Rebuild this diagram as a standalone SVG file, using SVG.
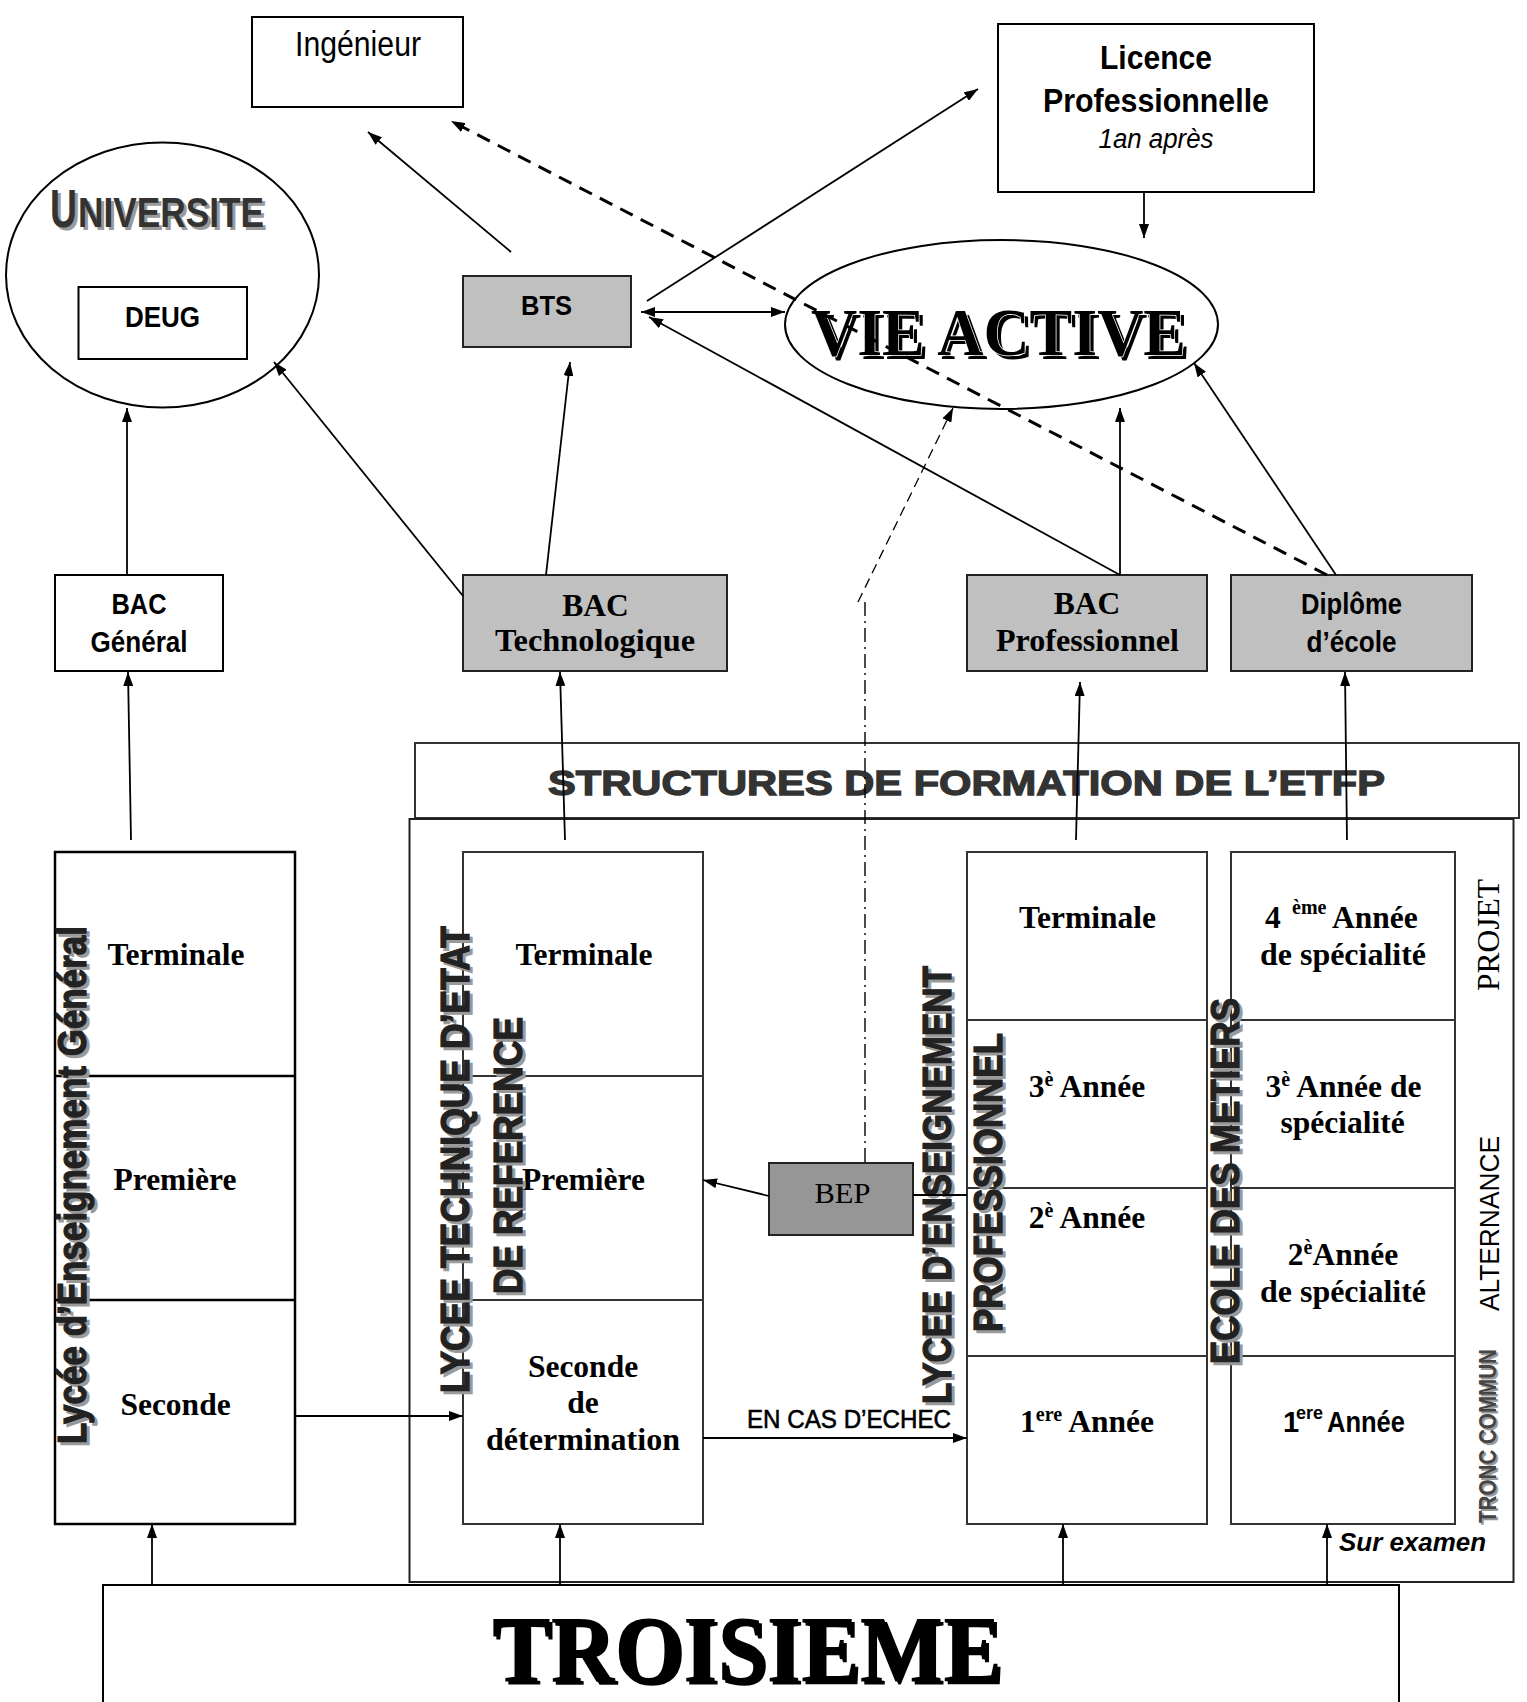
<svg xmlns="http://www.w3.org/2000/svg" width="1527" height="1702" viewBox="0 0 1527 1702">
<defs>
<marker id="ah" viewBox="0 0 14 10" refX="14" refY="5" markerWidth="14" markerHeight="10" markerUnits="userSpaceOnUse" orient="auto-start-reverse">
<path d="M0,0 L14,5 L0,10 Z" fill="#000"/>
</marker>
</defs>
<style>
.box{fill:#fff;stroke:#000;stroke-width:2}
.gray{fill:#c0c0c0;stroke:#222;stroke-width:2}
.dark{fill:#969696;stroke:#222;stroke-width:2}
.col{fill:#fff;stroke:#333;stroke-width:2}
.n{font-family:"Liberation Sans Narrow","Liberation Sans",Arial,sans-serif}
.b{font-weight:bold}
.i{font-style:italic}
.t{font-family:"Liberation Serif","Times New Roman",serif;font-weight:bold;font-size:31.5px;fill:#000}
.tr{font-family:"Liberation Serif","Times New Roman",serif;fill:#000}
.hv{font-family:"Liberation Sans",Arial,sans-serif;font-weight:bold;font-size:40px;fill:#222;stroke:#222;stroke-width:1.2}
.sh{fill:#9a9a9a;stroke:#9a9a9a}
.mid{text-anchor:middle}
.conn line{stroke:#000;stroke-width:1.8;fill:none}
.conn .ar{marker-end:url(#ah)}
</style>

<!-- top nodes -->
<g id="ingenieur">
<rect class="box" x="252" y="17" width="211" height="90"/>
<text class="n mid" x="358" y="56" font-size="35" textLength="126" lengthAdjust="spacingAndGlyphs">Ingénieur</text>
</g>
<g id="licence">
<rect class="box" x="998" y="24" width="316" height="168"/>
<text class="n b mid" x="1156" y="69" font-size="33" textLength="112" lengthAdjust="spacingAndGlyphs">Licence</text>
<text class="n b mid" x="1156" y="112" font-size="33" textLength="226" lengthAdjust="spacingAndGlyphs">Professionnelle</text>
<text class="n i mid" x="1156" y="148" font-size="27" textLength="115" lengthAdjust="spacingAndGlyphs">1an après</text>
</g>
<g id="universite">
<ellipse cx="162.5" cy="275" rx="156.5" ry="132.5" fill="#fff" stroke="#000" stroke-width="2"/>
<text class="n b" x="53" y="230" font-size="53" fill="#9a9a9a" textLength="27" lengthAdjust="spacingAndGlyphs">U</text>
<text class="n b" x="81" y="230" font-size="42" fill="#9a9a9a" textLength="186" lengthAdjust="spacingAndGlyphs">NIVERSITE</text>
<text class="n b" x="50" y="227" font-size="53" fill="#333" textLength="27" lengthAdjust="spacingAndGlyphs">U</text>
<text class="n b" x="78" y="227" font-size="42" fill="#333" textLength="186" lengthAdjust="spacingAndGlyphs">NIVERSITE</text>
</g>
<g id="deug">
<rect class="box" x="78.5" y="287" width="168.5" height="72"/>
<text class="n b mid" x="162.5" y="327" font-size="29" textLength="75" lengthAdjust="spacingAndGlyphs">DEUG</text>
</g>
<g id="bts">
<rect class="gray" x="463" y="276" width="168" height="71"/>
<text class="n b mid" x="546.5" y="315" font-size="28" textLength="51" lengthAdjust="spacingAndGlyphs">BTS</text>
</g>
<g id="vie-active">
<ellipse cx="1001.5" cy="324.5" rx="216.5" ry="84.5" fill="#fff" stroke="#000" stroke-width="2"/>
<text class="tr" x="815" y="359" font-size="68" font-weight="bold" fill="#8a8a8a" textLength="375" lengthAdjust="spacingAndGlyphs">VIE ACTIVE</text>
<text class="tr" x="811" y="355" font-size="68" font-weight="bold" fill="#333" stroke="#fff" stroke-width="1.5" paint-order="stroke" textLength="375" lengthAdjust="spacingAndGlyphs">VIE ACTIVE</text>
</g>

<!-- bac nodes -->
<g id="bac-general">
<rect class="box" x="55" y="575" width="168" height="96"/>
<text class="n b mid" x="139" y="614" font-size="29" textLength="55" lengthAdjust="spacingAndGlyphs">BAC</text>
<text class="n b mid" x="139" y="652" font-size="29" textLength="97" lengthAdjust="spacingAndGlyphs">Général</text>
</g>
<g id="bac-techno">
<rect class="gray" x="463" y="575" width="264" height="96"/>
<text class="t mid" x="595.5" y="616">BAC</text>
<text class="t mid" x="595" y="651" textLength="200" lengthAdjust="spacingAndGlyphs">Technologique</text>
</g>
<g id="bac-pro">
<rect class="gray" x="967" y="575" width="240" height="96"/>
<text class="t mid" x="1087" y="614">BAC</text>
<text class="t mid" x="1087.5" y="651" textLength="183" lengthAdjust="spacingAndGlyphs">Professionnel</text>
</g>
<g id="diplome">
<rect class="gray" x="1231" y="575" width="241" height="96"/>
<text class="n b mid" x="1351.5" y="614" font-size="29" textLength="101" lengthAdjust="spacingAndGlyphs">Diplôme</text>
<text class="n b mid" x="1351.5" y="652" font-size="29" textLength="90" lengthAdjust="spacingAndGlyphs">d’école</text>
</g>

<!-- ETFP frame -->
<g id="etfp">
<rect x="415" y="743" width="1104" height="75" fill="#fff" stroke="#333" stroke-width="2"/>
<text class="hv" x="548" y="795" style="font-size:35px;fill:#333;stroke:#333;stroke-width:1.3" textLength="837" lengthAdjust="spacingAndGlyphs">STRUCTURES DE FORMATION DE L’ETFP</text>
<rect x="409.5" y="819" width="1104" height="763" fill="none" stroke="#222" stroke-width="2"/>
</g>

<!-- troisieme -->
<g id="troisieme">
<rect class="box" x="103" y="1585" width="1296" height="140"/>
<text class="tr" x="495" y="1685" font-size="96" font-weight="bold" fill="#9a9a9a" textLength="510" lengthAdjust="spacingAndGlyphs">TROISIEME</text>
<text class="tr" x="492" y="1682" font-size="96" font-weight="bold" fill="#000" textLength="510" lengthAdjust="spacingAndGlyphs">TROISIEME</text>
</g>

<!-- Lycee general -->
<g id="lycee-general">
<rect x="55" y="852" width="240" height="672" fill="#fff" stroke="#000" stroke-width="2.5"/>
<line x1="55" y1="1076" x2="295" y2="1076" stroke="#000" stroke-width="2.5"/>
<line x1="55" y1="1300" x2="295" y2="1300" stroke="#000" stroke-width="2.5"/>
<text class="t mid" x="176" y="965">Terminale</text>
<text class="t mid" x="175" y="1190">Première</text>
<text class="t mid" x="175.5" y="1415">Seconde</text>
<g transform="translate(89,1447) rotate(-90)"><text class="hv sh" textLength="518" lengthAdjust="spacingAndGlyphs">Lycée d’Enseignement Général</text></g>
<g transform="translate(86,1444) rotate(-90)"><text class="hv" textLength="518" lengthAdjust="spacingAndGlyphs">Lycée d’Enseignement Général</text></g>
</g>

<!-- Lycee technique -->
<g id="lycee-technique">
<rect class="col" x="463" y="852" width="240" height="672"/>
<line x1="463" y1="1076" x2="703" y2="1076" stroke="#333" stroke-width="2"/>
<line x1="463" y1="1300" x2="703" y2="1300" stroke="#333" stroke-width="2"/>
<text class="t mid" x="584" y="965">Terminale</text>
<text class="t mid" x="583.5" y="1190">Première</text>
<text class="t mid" x="583" y="1377">Seconde</text>
<text class="t mid" x="583" y="1413">de</text>
<text class="t mid" x="583" y="1450" textLength="194" lengthAdjust="spacingAndGlyphs">détermination</text>
<g transform="translate(472,1396) rotate(-90)"><text class="hv sh" textLength="467" lengthAdjust="spacingAndGlyphs">LYCEE TECHNIQUE D’ETAT</text></g>
<g transform="translate(469,1393) rotate(-90)"><text class="hv" textLength="467" lengthAdjust="spacingAndGlyphs">LYCEE TECHNIQUE D’ETAT</text></g>
<g transform="translate(525,1297) rotate(-90)"><text class="hv sh" textLength="277" lengthAdjust="spacingAndGlyphs">DE REFERENCE</text></g>
<g transform="translate(522,1294) rotate(-90)"><text class="hv" textLength="277" lengthAdjust="spacingAndGlyphs">DE REFERENCE</text></g>
</g>

<!-- BEP -->
<g id="bep">
<rect class="dark" x="769" y="1163" width="144" height="72"/>
<text class="tr mid" x="842.5" y="1203" font-size="29" textLength="56" lengthAdjust="spacingAndGlyphs">BEP</text>
</g>

<!-- Lycee professionnel -->
<g id="lycee-pro">
<rect class="col" x="967" y="852" width="240" height="672"/>
<line x1="967" y1="1020" x2="1207" y2="1020" stroke="#333" stroke-width="2"/>
<line x1="967" y1="1188" x2="1207" y2="1188" stroke="#333" stroke-width="2"/>
<line x1="967" y1="1356" x2="1207" y2="1356" stroke="#333" stroke-width="2"/>
<text class="t mid" x="1087.5" y="928">Terminale</text>
<text class="t mid" x="1087" y="1097">3<tspan font-size="20" dy="-11">è</tspan><tspan dy="11"> Année</tspan></text>
<text class="t mid" x="1087" y="1228">2<tspan font-size="20" dy="-11">è</tspan><tspan dy="11"> Année</tspan></text>
<text class="t mid" x="1087" y="1432">1<tspan font-size="20" dy="-11">ere</tspan><tspan dy="11"> Année</tspan></text>
<g transform="translate(954,1407) rotate(-90)"><text class="hv sh" textLength="438" lengthAdjust="spacingAndGlyphs">LYCEE D’ENSEIGNEMENT</text></g>
<g transform="translate(951,1404) rotate(-90)"><text class="hv" textLength="438" lengthAdjust="spacingAndGlyphs">LYCEE D’ENSEIGNEMENT</text></g>
<g transform="translate(1005,1335) rotate(-90)"><text class="hv sh" textLength="299" lengthAdjust="spacingAndGlyphs">PROFESSIONNEL</text></g>
<g transform="translate(1002,1332) rotate(-90)"><text class="hv" textLength="299" lengthAdjust="spacingAndGlyphs">PROFESSIONNEL</text></g>
</g>

<!-- Ecole des metiers -->
<g id="ecole-metiers">
<rect class="col" x="1231" y="852" width="224" height="672"/>
<line x1="1231" y1="1020" x2="1455" y2="1020" stroke="#333" stroke-width="2"/>
<line x1="1231" y1="1188" x2="1455" y2="1188" stroke="#333" stroke-width="2"/>
<line x1="1231" y1="1356" x2="1455" y2="1356" stroke="#333" stroke-width="2"/>
<text class="t" x="1265" y="928">4</text>
<text class="t" x="1292" y="914" style="font-size:20px">ème</text>
<text class="t" x="1332" y="928">Année</text>
<text class="t mid" x="1343" y="965" textLength="166" lengthAdjust="spacingAndGlyphs">de spécialité</text>
<text class="t mid" x="1343.5" y="1097">3<tspan font-size="20" dy="-11">è</tspan><tspan dy="11"> Année de</tspan></text>
<text class="t mid" x="1342.5" y="1133">spécialité</text>
<text class="t mid" x="1343" y="1265">2<tspan font-size="20" dy="-11">è</tspan><tspan dy="11">Année</tspan></text>
<text class="t mid" x="1343" y="1302" textLength="166" lengthAdjust="spacingAndGlyphs">de spécialité</text>
<text class="n b" x="1283" y="1432" font-size="29">1</text>
<text class="n b" x="1296" y="1419" font-size="18" textLength="27" lengthAdjust="spacingAndGlyphs">ere</text>
<text class="n b" x="1327" y="1432" font-size="29" textLength="78" lengthAdjust="spacingAndGlyphs">Année</text>
<g transform="translate(1242,1367) rotate(-90)"><text class="hv sh" textLength="366" lengthAdjust="spacingAndGlyphs">ECOLE DES METIERS</text></g>
<g transform="translate(1239,1364) rotate(-90)"><text class="hv" textLength="366" lengthAdjust="spacingAndGlyphs">ECOLE DES METIERS</text></g>
</g>

<!-- side labels -->
<g id="side-labels">
<g transform="translate(1499,991) rotate(-90)"><text class="tr" font-size="31" textLength="112" lengthAdjust="spacingAndGlyphs">PROJET</text></g>
<g transform="translate(1499,1311) rotate(-90)"><text class="n" font-size="28" fill="#000" textLength="175" lengthAdjust="spacingAndGlyphs">ALTERNANCE</text></g>
<g transform="translate(1498,1525) rotate(-90)"><text class="n b" font-size="24" fill="#9a9a9a" textLength="174" lengthAdjust="spacingAndGlyphs">TRONC COMMUN</text></g>
<g transform="translate(1496,1523) rotate(-90)"><text class="n b" font-size="24" fill="#444" textLength="174" lengthAdjust="spacingAndGlyphs">TRONC COMMUN</text></g>
<text class="n b i" x="1339" y="1551" font-size="25" textLength="147" lengthAdjust="spacingAndGlyphs">Sur examen</text>
<text class="n" x="747" y="1428" font-size="26" fill="#000" stroke="#000" stroke-width="0.6" textLength="204" lengthAdjust="spacingAndGlyphs">EN CAS D’ECHEC</text>
</g>

<!-- connectors -->
<g id="connectors" class="conn">
<line class="ar" x1="127" y1="575" x2="127" y2="408"/>
<line class="ar" x1="131" y1="840" x2="128" y2="672"/>
<line class="ar" x1="296" y1="1416" x2="463" y2="1416"/>
<line class="ar" x1="463" y1="596" x2="274" y2="362"/>
<line class="ar" x1="546" y1="575" x2="570" y2="362"/>
<line class="ar" x1="511" y1="252" x2="368" y2="132"/>
<line class="ar" x1="647" y1="301" x2="978" y2="89"/>
<line class="ar" x1="641" y1="312" x2="785" y2="312" marker-start="url(#ah)"/>
<line class="ar" x1="1120" y1="575" x2="649" y2="317"/>
<line class="ar" x1="1120" y1="575" x2="1120" y2="408"/>
<line class="ar" x1="1336" y1="575" x2="1194" y2="363"/>
<line class="ar" x1="1327" y1="575" x2="451" y2="121" style="stroke-width:3;stroke-dasharray:14 9"/>
<line x1="865" y1="1162" x2="865" y2="602" style="stroke-width:1.4;stroke-dasharray:14 5 2 5"/>
<line class="ar" x1="858" y1="602" x2="953" y2="408" style="stroke-width:1.3;stroke-dasharray:10 6"/>
<line class="ar" x1="769" y1="1196" x2="703" y2="1180"/>
<line x1="913" y1="1195" x2="967" y2="1195"/>
<line class="ar" x1="703" y1="1438" x2="967" y2="1438"/>
<line class="ar" x1="565" y1="840" x2="560" y2="672"/>
<line class="ar" x1="1076" y1="840" x2="1080" y2="682"/>
<line class="ar" x1="1347" y1="840" x2="1345" y2="672"/>
<line class="ar" x1="1144" y1="192" x2="1144" y2="238"/>
<line class="ar" x1="152" y1="1585" x2="152" y2="1524"/>
<line class="ar" x1="560" y1="1585" x2="560" y2="1524"/>
<line class="ar" x1="1063" y1="1585" x2="1063" y2="1524"/>
<line class="ar" x1="1327" y1="1585" x2="1327" y2="1524"/>
</g>
</svg>
